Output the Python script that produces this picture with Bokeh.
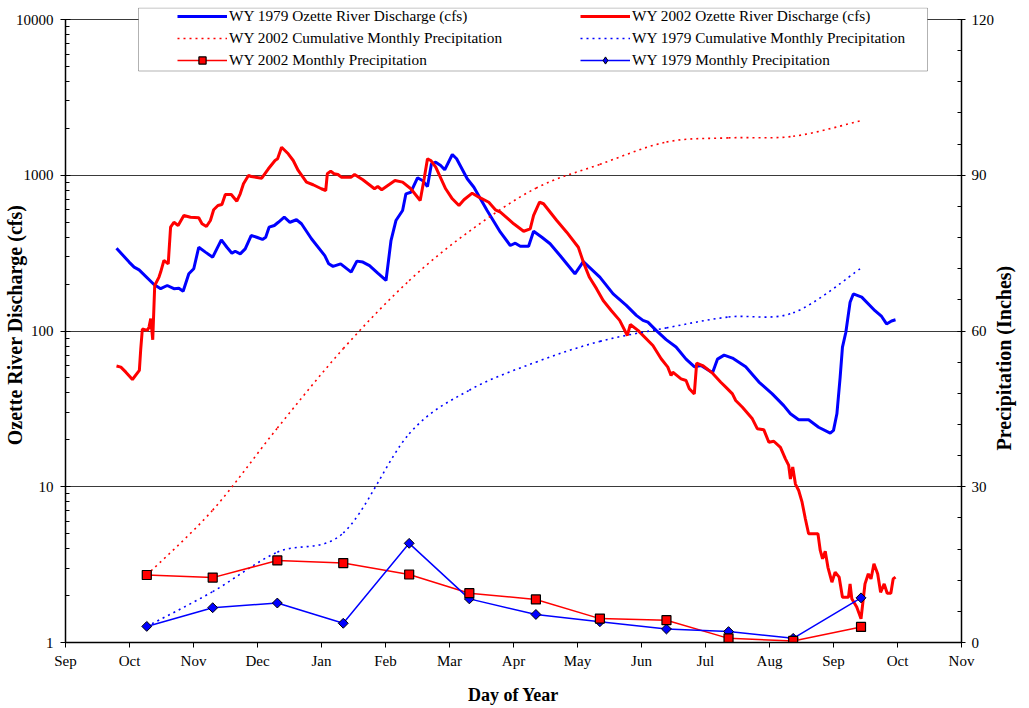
import math
from bokeh.plotting import figure
from bokeh.models import (Range1d, LinearAxis, LinearScale, FixedTicker, BasicTickFormatter,
                          Legend, LegendItem, BoxAnnotation)
from bokeh.embed import file_html
from bokeh.resources import INLINE

# ---------------- data ----------------
month_labels = ["Sep", "Oct", "Nov", "Dec", "Jan", "Feb", "Mar", "Apr",
                "May", "Jun", "Jul", "Aug", "Sep", "Oct", "Nov"]

# x in months since Sep 1 (0 = Sep, 1 = Oct, ...)
q79_month = [0.797, 0.994, 1.072, 1.150, 1.383, 1.487, 1.590, 1.694, 1.771, 1.838,
             1.927, 2.004, 2.082, 2.186, 2.300, 2.435, 2.522, 2.600, 2.652, 2.730,
             2.808, 2.901, 2.988, 3.077, 3.128, 3.181, 3.263, 3.325, 3.418, 3.507,
             3.609, 3.687, 3.843, 4.051, 4.113, 4.180, 4.299, 4.464, 4.553, 4.646,
             4.750, 4.879, 5.008, 5.086, 5.163, 5.267, 5.319, 5.396, 5.500, 5.578,
             5.656, 5.718, 5.785, 5.862, 5.925, 6.044, 6.111, 6.277, 6.381, 6.588,
             6.795, 6.950, 7.028, 7.106, 7.236, 7.314, 7.443, 7.572, 7.727, 7.960,
             8.091, 8.349, 8.557, 8.763, 8.919, 9.023, 9.100, 9.229, 9.385, 9.540,
             9.696, 9.825, 9.929, 10.110, 10.188, 10.291, 10.421, 10.628, 10.835, 11.043,
             11.223, 11.327, 11.456, 11.611, 11.767, 11.949, 12.000, 12.053, 12.104, 12.140,
             12.193, 12.259, 12.310, 12.441, 12.648, 12.752, 12.829, 12.907, 12.969]
q79_cfs = [340, 277, 257, 247, 199, 187, 196, 187, 188, 180,
           233, 251, 345, 321, 298, 385, 345, 316, 325, 313,
           337, 410, 400, 387, 400, 464, 476, 499, 538, 499,
           518, 488, 391, 305, 270, 260, 270, 239, 281, 277,
           263, 235, 211, 381, 512, 594, 760, 778, 963, 925,
           847, 1184, 1213, 1155, 1084, 1359, 1275, 949, 838, 594,
           431, 354, 366, 350, 350, 437, 400, 363, 305, 233,
           279, 222, 173, 146, 126, 117, 114, 101, 88, 79,
           66, 59, 60, 54, 66, 70, 67, 59, 47, 39.5,
           33.2, 29.4, 26.9, 26.9, 24.1, 22.1, 23.0, 29.4, 50.5, 78.7,
           98.2, 153, 173, 165, 135, 124, 111, 116, 118]

q02_month = [0.797, 0.865, 0.943, 1.046, 1.154, 1.176, 1.201, 1.279, 1.305, 1.332,
             1.363, 1.394, 1.461, 1.487, 1.538, 1.605, 1.642, 1.694, 1.760, 1.849,
             1.953, 2.082, 2.133, 2.202, 2.264, 2.315, 2.382, 2.444, 2.497, 2.590,
             2.677, 2.730, 2.781, 2.859, 2.901, 3.066, 3.170, 3.274, 3.314, 3.376,
             3.480, 3.558, 3.636, 3.765, 3.869, 3.998, 4.066, 4.091, 4.144, 4.195,
             4.257, 4.309, 4.464, 4.517, 4.646, 4.828, 4.879, 4.941, 5.148, 5.267,
             5.396, 5.542, 5.604, 5.656, 5.707, 5.785, 5.940, 6.044, 6.148, 6.226,
             6.355, 6.459, 6.614, 6.717, 6.795, 7.003, 7.158, 7.261, 7.314, 7.407,
             7.469, 7.676, 7.831, 8.013, 8.091, 8.184, 8.297, 8.401, 8.530, 8.659,
             8.779, 8.825, 8.945, 9.178, 9.307, 9.411, 9.462, 9.489, 9.618, 9.696,
             9.747, 9.825, 9.862, 9.955, 10.110, 10.239, 10.317, 10.421, 10.472, 10.577,
             10.732, 10.809, 10.912, 10.990, 11.067, 11.171, 11.249, 11.300, 11.327, 11.363,
             11.405, 11.456, 11.509, 11.560, 11.611, 11.757, 11.793, 11.829, 11.871, 11.913,
             11.975, 12.026, 12.088, 12.140, 12.233, 12.259, 12.286, 12.363, 12.430, 12.492,
             12.544, 12.586, 12.632, 12.690, 12.736, 12.792, 12.839, 12.896, 12.932, 12.969]
q02_cfs = [59.6, 58.6, 54.4, 48.8, 55.8, 76.9, 103, 101, 106, 120,
           87.8, 196, 222, 239, 284, 270, 464, 499, 476, 552,
           538, 533, 488, 469, 512, 600, 639, 649, 752, 752,
           681, 760, 881, 996, 982, 957, 1100, 1244, 1275, 1514,
           1373, 1244, 1073, 903, 869, 819, 798, 1022, 1062, 1022,
           1011, 972, 972, 1011, 935, 819, 847, 807, 925, 903,
           819, 688, 949, 1275, 1244, 1126, 819, 706, 639, 696,
           767, 723, 671, 600, 579, 488, 437, 453, 552, 671,
           656, 512, 431, 345, 277, 222, 187, 157, 135, 117,
           93.6, 110, 101, 80.7, 66.3, 58.6, 51.8, 54.4, 49.3, 48.1,
           42.6, 39.5, 62.1, 60.0, 53.6, 46.9, 43.6, 39.5, 35.8, 32.4,
           27.3, 23.6, 23.2, 19.3, 19.6, 17.9, 15.1, 13.7, 11.2, 13.4,
           10.4, 9.46, 7.96, 6.23, 4.99, 4.99, 3.90, 3.45, 3.86, 3.04,
           2.44, 2.83, 2.63, 1.95, 1.95, 2.38, 1.91, 1.69, 1.42, 2.38,
           2.76, 2.56, 3.20, 2.76, 2.10, 2.38, 2.07, 2.07, 2.56, 2.63]

precip_month = [1.27, 2.30, 3.31, 4.34, 5.37, 6.31, 7.35, 8.35, 9.39, 10.36, 11.37, 12.43]
monthly_2002 = [13.0, 12.5, 15.8, 15.3, 13.1, 9.5, 8.3, 4.6, 4.3, 0.8, 0.3, 3.0]
monthly_1979 = [3.1, 6.7, 7.6, 3.7, 19.1, 8.4, 5.4, 4.0, 2.6, 2.1, 0.8, 8.6]
cumulative_2002 = [13.0, 25.5, 41.3, 56.6, 69.7, 79.2, 87.5, 92.1, 96.4, 97.2, 97.5, 100.5]
cumulative_1979 = [3.1, 9.8, 17.4, 21.1, 40.2, 48.6, 54.0, 58.0, 60.6, 62.7, 63.5, 72.1]

left_ticks = [1, 10, 100, 1000, 10000]
right_ticks = [0, 30, 60, 90, 120]

FONT = "Liberation Serif"
RED = "#ff0000"
BLUE = "#0000ff"

# ---------------- layout ----------------
W, H = 1029, 708
BL, BR, BT, BB = 65, 62, 7, 66
frame_h = H - BT - BB
axis_h = 623                       # pixels spanned by the axes (1..10000, 0..120)
extra = frame_h / axis_h           # frame extends a little above the axes for the legend
log_top = 10 ** (4 * extra)
lin_top = 120 * extra

p = figure(width=W, height=H, y_axis_type="log",
           x_range=Range1d(0, 14), y_range=Range1d(1, log_top),
           output_backend="svg", toolbar_location=None,
           min_border_left=BL, min_border_right=BR,
           min_border_top=BT, min_border_bottom=BB)
p.extra_y_ranges = {"precip": Range1d(0, lin_top)}
p.extra_y_scales = {"precip": LinearScale()}
p.outline_line_color = None
p.xgrid.visible = False

xax = p.xaxis[0]
xax.ticker = FixedTicker(ticks=list(range(len(month_labels))))
xax.major_label_overrides = {i: lab for i, lab in enumerate(month_labels)}
xax.major_tick_in = 0
xax.major_tick_out = 5
xax.minor_tick_in = 0
xax.minor_tick_out = 0
xax.major_label_standoff = 5
xax.axis_label = "Day of Year"
xax.axis_label_standoff = 13

yax = p.yaxis[0]
yax.ticker = FixedTicker(ticks=left_ticks,
                         minor_ticks=[k * 10 ** d for d in range(4) for k in range(2, 10)])
yax.formatter = BasicTickFormatter(use_scientific=False)
yax.bounds = (1, 10000)
yax.major_tick_in = 5
yax.major_tick_out = 5
yax.minor_tick_in = 4
yax.minor_tick_out = 0
yax.major_label_standoff = 7
yax.axis_label = "Ozette River Discharge (cfs)"
yax.axis_label_standoff = -13

rax = LinearAxis(y_range_name="precip",
                 ticker=FixedTicker(ticks=right_ticks, minor_ticks=list(range(6, 120, 6))))
rax.bounds = (0, 120)
rax.major_tick_in = 4
rax.major_tick_out = 4
rax.minor_tick_in = 4
rax.minor_tick_out = 0
rax.major_label_standoff = 6
p.add_layout(rax, "right")

# right-hand title drawn as the single (rotated) label of a bare axis
right_title = "Precipitation (Inches)"
right_title_at = 37          # precipitation value where the rotated title starts
tax = LinearAxis(y_range_name="precip", ticker=FixedTicker(ticks=[right_title_at]))
tax.major_label_overrides = {right_title_at: right_title}
tax.major_label_orientation = math.pi / 2
tax.axis_line_color = None
tax.major_tick_line_color = None
tax.minor_tick_line_color = None
tax.major_tick_in = 0
tax.major_tick_out = 0
tax.minor_tick_in = 0
tax.minor_tick_out = 0
tax.major_label_standoff = 7
tax.major_label_text_font = FONT
tax.major_label_text_font_style = "bold"
tax.major_label_text_font_size = "20px"
tax.major_label_text_color = "black"
p.add_layout(tax, "right")

for ax in (xax, yax, rax):
    ax.axis_line_width = 1.5
    ax.axis_line_color = "black"
    ax.major_tick_line_color = "black"
    ax.minor_tick_line_color = "black"
    ax.major_label_text_font = FONT
    ax.major_label_text_font_size = "15px"
    ax.major_label_text_color = "black"
    ax.axis_label_text_font = FONT
    ax.axis_label_text_font_style = "bold"
    ax.axis_label_text_color = "black"
xax.axis_label_text_font_size = "18px"
yax.axis_label_text_font_size = "20px"

p.ygrid.grid_line_color = "#3a3a3a"
p.ygrid.grid_line_width = 1

# ---------------- discharge ----------------
r79 = p.line(q79_month, q79_cfs, line_color=BLUE, line_width=3)
r02 = p.line(q02_month, q02_cfs, line_color=RED, line_width=3)


# ---------------- cumulative (smoothed) ----------------
def bezier_parts(xs, ys):
    n = len(xs)
    out = {k: [] for k in ("x0", "y0", "x1", "y1", "cx0", "cy0", "cx1", "cy1")}
    for i in range(n - 1):
        a = max(i - 1, 0)
        d = min(i + 2, n - 1)
        out["x0"].append(xs[i]); out["y0"].append(ys[i])
        out["x1"].append(xs[i + 1]); out["y1"].append(ys[i + 1])
        out["cx0"].append(xs[i] + (xs[i + 1] - xs[a]) / 6.0)
        out["cy0"].append(ys[i] + (ys[i + 1] - ys[a]) / 6.0)
        out["cx1"].append(xs[i + 1] - (xs[d] - xs[i]) / 6.0)
        out["cy1"].append(ys[i + 1] - (ys[d] - ys[i]) / 6.0)
    return out


rc02 = p.bezier(**bezier_parts(precip_month, cumulative_2002), y_range_name="precip",
                line_color=RED, line_width=1.6, line_dash="2 4")
rc79 = p.bezier(**bezier_parts(precip_month, cumulative_1979), y_range_name="precip",
                line_color=BLUE, line_width=1.6, line_dash="2 4")

# ---------------- monthly ----------------
rl02 = p.line(precip_month, monthly_2002, y_range_name="precip", line_color=RED, line_width=1.5)
rl79 = p.line(precip_month, monthly_1979, y_range_name="precip", line_color=BLUE, line_width=1.5)
rs79 = p.scatter(precip_month, monthly_1979, y_range_name="precip", marker="square",
                 angle=math.pi / 4, size=7, fill_color=BLUE, line_color="black", line_width=1)
rs02 = p.scatter(precip_month, monthly_2002, y_range_name="precip", marker="square",
                 size=9, fill_color=RED, line_color="black", line_width=1.2)
# legend symbol for the 1979 monthly series (renderer hidden, only used by the legend)
rs79_leg = p.scatter(precip_month, monthly_1979, y_range_name="precip", marker="diamond",
                     size=15, fill_color=BLUE, line_color="black", line_width=1, visible=False)

# ---------------- legend ----------------
box = BoxAnnotation(left=73, right=862, bottom=571.5, top=634.5,
                    left_units="screen", right_units="screen",
                    bottom_units="screen", top_units="screen",
                    fill_color="white", fill_alpha=1.0,
                    line_color="black", line_width=1)
p.add_layout(box)


def make_legend(items, loc):
    return Legend(items=items, location=loc, orientation="vertical",
                  padding=0, margin=0, spacing=4, glyph_width=50, glyph_height=18,
                  label_height=18, label_standoff=2,
                  label_text_font=FONT, label_text_font_size="15.3px",
                  label_text_color="black",
                  border_line_alpha=0, background_fill_alpha=0)


leg1 = make_legend([
    LegendItem(label="WY 1979 Ozette River Discharge (cfs)", renderers=[r79]),
    LegendItem(label="WY 2002 Cumulative Monthly Precipitation", renderers=[rc02]),
    LegendItem(label="WY 2002 Monthly Precipitation", renderers=[rl02, rs02]),
], (112, 573))
leg2 = make_legend([
    LegendItem(label="WY 2002 Ozette River Discharge (cfs)", renderers=[r02]),
    LegendItem(label="WY 1979 Cumulative Monthly Precipitation", renderers=[rc79]),
    LegendItem(label="WY 1979 Monthly Precipitation", renderers=[rl79, rs79_leg]),
], (515, 573))
p.add_layout(leg1)
p.add_layout(leg2)

open("out.html", "w").write(file_html(p, INLINE))
